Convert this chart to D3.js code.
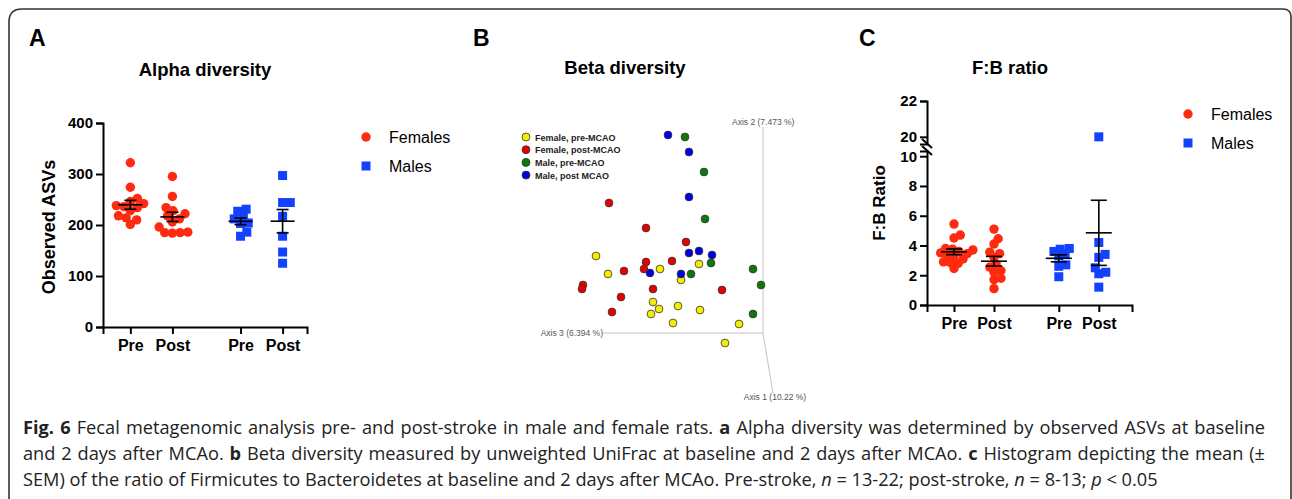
<!DOCTYPE html>
<html>
<head>
<meta charset="utf-8">
<script src="https://cdn.jsdelivr.net/npm/d3@7"></script>
<style>
  body { margin: 0; background: #fff; }
  .chart { font-family: "Liberation Sans", Arimo, Arial, Helvetica, sans-serif; }
  .letter { font-size: 23px; font-weight: bold; }
  .title { font-size: 18.5px; font-weight: bold; }
  .axis path, .axis line { stroke: #000; stroke-width: 2px; }
  .axis text { font-size: 15px; font-weight: bold; fill: #000; font-family: "Liberation Sans", Arial, sans-serif; }
  .xaxis text { font-size: 16px; }
  .ylabel { font-size: 18px; font-weight: bold; }
  .legend { font-size: 16px; }
  .caption { font-family: "Open Sans", sans-serif; font-size: 18.2px; fill: #222; }
</style>
</head>
<body>
<script>

// ---- data ----
var groupLabels = ["Pre", "Post", "Pre", "Post"];
var sexNames = ["Females", "Males"];

// A: observed ASVs
var alphaFemalePre  = [322, 274, 252, 246, 242, 238, 236, 234, 228, 218, 214, 210, 201];
var alphaFemalePost = [295, 256, 234, 228, 222, 218, 212, 206, 196, 186, 185, 185, 184];
var alphaMalePre    = [231, 227, 217, 212, 204, 203, 186, 178];
var alphaMalePost   = [297, 244, 244, 217, 178, 147, 125];
var alphaTicks = [0, 100, 200, 300, 400];

// C: F:B ratio
var ratioFemalePre  = [5.44, 4.7, 4.5, 3.8, 3.75, 3.7, 3.6, 3.5, 3.45, 3.35, 3.3, 3.1, 2.9, 2.85, 2.8, 2.45];
var ratioFemalePost = [5.1, 4.45, 4.1, 3.55, 3.45, 3.2, 2.75, 2.55, 2.3, 2.2, 1.8, 1.7, 1.1];
var ratioMalePre    = [3.8, 3.75, 3.6, 3.45, 3.3, 2.7, 2.6, 1.9];
var ratioMalePost   = [20, 4.2, 3.4, 3.2, 2.5, 2.2, 2.1, 1.2];
var ratioTicksLow = [0, 2, 4, 6, 8, 10];
var ratioTicksHigh = [20, 22];

// B: PCoA projection (axis 3 horizontal, axis 2 vertical)
var betaNames = ["Female, pre-MCAO", "Female, post-MCAO", "Male, pre-MCAO", "Male, post MCAO"];
var betaFemalePre = [[-0.167, 0.077], [-0.155, 0.059], [-0.103, 0.064], [-0.064, 0.069], [-0.082, 0.053],
                     [-0.110, 0.031], [-0.104, 0.024], [-0.112, 0.019], [-0.085, 0.027], [-0.063, 0.023],
                     [-0.090, 0.010], [-0.024, 0.009], [-0.038, -0.010]];
var betaFemalePost = [[-0.154, 0.130], [-0.117, 0.105], [-0.077, 0.091], [-0.117, 0.071], [-0.091, 0.072],
                      [-0.119, 0.064], [-0.139, 0.062], [-0.180, 0.048], [-0.181, 0.044], [-0.110, 0.044],
                      [-0.142, 0.036], [-0.151, 0.021], [-0.041, 0.043]];
var betaMalePre = [[-0.078, 0.196], [-0.059, 0.161], [-0.058, 0.114], [-0.052, 0.070], [-0.072, 0.059],
                   [-0.010, 0.064], [-0.002, 0.048], [-0.010, 0.019]];
var betaMalePost = [[-0.095, 0.198], [-0.074, 0.181], [-0.074, 0.136], [-0.074, 0.080], [-0.064, 0.082],
                    [-0.051, 0.078], [-0.113, 0.060], [-0.082, 0.059]];
var betaAxisNames = ["Axis 1 (10.22 %)", "Axis 2 (7.473 %)", "Axis 3 (6.394 %)"];

var red = "#ff2a0f", blue = "#1242ff";
var betaColors = ["#f4ef00", "#e60000", "#0b7a0b", "#0000e6"];

var svg = d3.select("body").append("svg")
    .attr("class", "chart")
    .attr("width", 1292)
    .attr("height", 499);

// frame
svg.append("path")
   .attr("d", "M9,499 V22 Q9,9 22,9 H1283 Q1291,9 1291,17 V499")
   .attr("fill", "none")
   .attr("stroke", "#333")
   .attr("stroke-width", 1.6);

// slot positions for the four groups
var slot = [0, 1, 2.62, 3.62];

function sem(v) { return d3.deviation(v) / Math.sqrt(v.length); }

// simple beeswarm: push points sideways until overlap is small enough
function swarm(vals, ypos, minDist) {
  var placed = [];
  vals.map(function(v){ return {v: v, y: ypos(v)}; })
      .sort(function(a, b){ return b.y - a.y; })
      .forEach(function(p){
        for (var k = 0; k < 300; k++) {
          var dx = (k % 2 ? 1 : -1) * Math.ceil(k / 2) * 0.7;
          var hit = placed.some(function(q){
            return (q.dx - dx) * (q.dx - dx) + (q.y - p.y) * (q.y - p.y) < minDist * minDist;
          });
          if (!hit) { p.dx = dx; placed.push(p); break; }
        }
      });
  return placed;
}

function drawGroup(g, vals, cx, ypos, shape, color, halfMean, halfCap, minDist) {
  var r = 4.7;
  swarm(vals, ypos, minDist).forEach(function(p){
    if (shape == "circle") {
      g.append("circle").attr("cx", cx + p.dx).attr("cy", p.y).attr("r", r).attr("fill", color);
    } else {
      g.append("rect").attr("x", cx + p.dx - 4.5).attr("y", p.y - 4.5)
       .attr("width", 9).attr("height", 9).attr("fill", color);
    }
  });
  var m = d3.mean(vals), s = sem(vals);
  var lines = [
    [cx, ypos(m - s), cx, ypos(m + s)],
    [cx - halfMean, ypos(m), cx + halfMean, ypos(m)],
    [cx - halfCap, ypos(m + s), cx + halfCap, ypos(m + s)],
    [cx - halfCap, ypos(m - s), cx + halfCap, ypos(m - s)]
  ];
  lines.forEach(function(l){
    g.append("line").attr("x1", l[0]).attr("y1", l[1]).attr("x2", l[2]).attr("y2", l[3])
     .attr("stroke", "#000").attr("stroke-width", 1.6);
  });
}

function legend(x, y) {
  svg.append("circle").attr("cx", x).attr("cy", y).attr("r", 4.7).attr("fill", red);
  svg.append("rect").attr("x", x - 4.5).attr("y", y + 29 - 4.5).attr("width", 9).attr("height", 9).attr("fill", blue);
  sexNames.forEach(function(n, i){
    svg.append("text").attr("class", "legend").attr("x", x + 23).attr("y", y + i * 29 + 6).text(n);
  });
}

// ================= A =================
svg.append("text").attr("class", "letter").attr("x", 29).attr("y", 46).text("A");
svg.append("text").attr("class", "title").attr("x", 205).attr("y", 76)
   .attr("text-anchor", "middle").text("Alpha diversity");

var xA = d3.scaleLinear().domain([-0.65, 4.2]).range([103, 307]);
var yA = d3.scaleLinear().domain([0, 400]).range([327, 123]);

svg.append("g").attr("class", "axis").attr("transform", "translate(103,0)")
   .call(d3.axisLeft(yA).tickValues(alphaTicks).tickSizeOuter(0).tickSize(7).tickPadding(3));
svg.append("g").attr("class", "axis xaxis").attr("transform", "translate(0,327)")
   .call(d3.axisBottom(xA).tickValues(slot).tickFormat(function(d, i){ return groupLabels[i]; })
         .tickSizeOuter(0).tickSize(7).tickPadding(6));

svg.append("text").attr("class", "ylabel")
   .attr("transform", "translate(55,227) rotate(-90)")
   .attr("text-anchor", "middle").text("Observed  ASVs");

var gA = svg.append("g");
[alphaFemalePre, alphaFemalePost, alphaMalePre, alphaMalePost].forEach(function(v, i){
  drawGroup(gA, v, xA(slot[i]), yA, i < 2 ? "circle" : "square", i < 2 ? red : blue, 12, 6, 7.5);
});
legend(366, 137);

// ================= B =================
svg.append("text").attr("class", "letter").attr("x", 473).attr("y", 46).text("B");
svg.append("text").attr("class", "title").attr("x", 625).attr("y", 74)
   .attr("text-anchor", "middle").text("Beta diversity");

var xB = d3.scaleLinear().domain([-0.18, 0]).range([583, 763]);
var yB = d3.scaleLinear().domain([0, 0.2]).range([333, 133]);

svg.append("polyline")
   .attr("points", [[xB(-0.16), yB(0)], [xB(0), yB(0)], [xB(0), yB(0.206)]].join(" "))
   .attr("fill", "none").attr("stroke", "#c4c4c4").attr("stroke-width", 1);
svg.append("line")
   .attr("x1", xB(0)).attr("y1", yB(0)).attr("x2", xB(0) + 10).attr("y2", yB(0) + 60)
   .attr("stroke", "#c4c4c4").attr("stroke-width", 1);

svg.append("text").attr("x", xB(0) + 12).attr("y", 400).attr("text-anchor", "middle")
   .style("font-size", "8.5px").style("fill", "#555").text(betaAxisNames[0]);
svg.append("text").attr("x", xB(0) - 31).attr("y", 125)
   .style("font-size", "8.5px").style("fill", "#555").text(betaAxisNames[1]);
svg.append("text").attr("x", xB(-0.16)).attr("y", 336).attr("text-anchor", "end")
   .style("font-size", "8.5px").style("fill", "#555").text(betaAxisNames[2]);

[betaFemalePre, betaFemalePost, betaMalePre, betaMalePost].forEach(function(pts, i){
  svg.append("g").selectAll("circle").data(pts).join("circle")
     .attr("cx", function(d){ return xB(d[0]); })
     .attr("cy", function(d){ return yB(d[1]); })
     .attr("r", 3.9)
     .attr("fill", betaColors[i])
     .attr("stroke", "#333").attr("stroke-width", 0.8);
});

betaNames.forEach(function(n, i){
  svg.append("circle").attr("cx", 526).attr("cy", 137 + i * 12.7).attr("r", 4)
     .attr("fill", betaColors[i]).attr("stroke", "#333").attr("stroke-width", 0.8);
  svg.append("text").attr("x", 535).attr("y", 140.5 + i * 12.7)
     .style("font-size", "9px").style("font-weight", "bold").style("fill", "#222").text(n);
});

// ================= C =================
svg.append("text").attr("class", "letter").attr("x", 859).attr("y", 46).text("C");
svg.append("text").attr("class", "title").attr("x", 1010).attr("y", 74)
   .attr("text-anchor", "middle").text("F:B ratio");

var xC = d3.scaleLinear().domain([-0.675, 4.45]).range([927, 1132]);
var yLow = d3.scaleLinear().domain([0, 10.35]).range([305, 151]);
var yHigh = d3.scaleLinear().domain([19.6, 22]).range([144, 101]);
function yC(v) { return v > 15 ? yHigh(v) : yLow(v); }

svg.append("g").attr("class", "axis").attr("transform", "translate(927,0)")
   .call(d3.axisLeft(yLow).tickValues(ratioTicksLow).tickFormat(d3.format("d"))
         .tickSizeOuter(0).tickSize(7).tickPadding(3));
svg.append("g").attr("class", "axis").attr("transform", "translate(927,0)")
   .call(d3.axisLeft(yHigh).tickValues(ratioTicksHigh).tickFormat(d3.format("d"))
         .tickSizeOuter(0).tickSize(7).tickPadding(3));
svg.append("g").attr("class", "axis xaxis").attr("transform", "translate(0,305)")
   .call(d3.axisBottom(xC).tickValues(slot).tickFormat(function(d, i){ return groupLabels[i]; })
         .tickSizeOuter(0).tickSize(7).tickPadding(6));

// break marks
[yHigh(19.6), yLow(10.35)].forEach(function(b){
  svg.append("line").attr("x1", 922).attr("y1", b - 5).attr("x2", 932).attr("y2", b + 4)
     .attr("stroke", "#000").attr("stroke-width", 2);
});

svg.append("text").attr("class", "ylabel")
   .style("font-size", "17px")
   .attr("transform", "translate(885,203) rotate(-90)")
   .attr("text-anchor", "middle").text("F:B Ratio");

var gC = svg.append("g");
[ratioFemalePre, ratioFemalePost, ratioMalePre, ratioMalePost].forEach(function(v, i){
  drawGroup(gC, v, xC(slot[i]), yC, i < 2 ? "circle" : "square", i < 2 ? red : blue, 13, 8, 6.6);
});
legend(1188, 114);

// ================= caption =================
var captionLines = [
  [["Fig. 6", "b"], [" Fecal metagenomic analysis pre- and post-stroke in male and female rats. ", ""], ["a", "b"],
   [" Alpha diversity was determined by observed ASVs at baseline", ""]],
  [["and 2 days after MCAo. ", ""], ["b", "b"], [" Beta diversity measured by unweighted UniFrac at baseline and 2 days after MCAo. ", ""],
   ["c", "b"], [" Histogram depicting the mean (\u00b1", ""]],
  [["SEM) of the ratio of Firmicutes to Bacteroidetes at baseline and 2 days after MCAo. Pre-stroke, ", ""], ["n", "i"],
   [" = 13-22; post-stroke, ", ""], ["n", "i"], [" = 8-13; ", ""], ["p", "i"], [" < 0.05", ""]]
];
captionLines.forEach(function(line, i){
  var t = svg.append("text").attr("class", "caption").attr("x", 23).attr("y", 434 + i * 26)
             .attr("xml:space", "preserve");
  line.forEach(function(s){
    t.append("tspan")
     .style("font-weight", s[1] == "b" ? "bold" : null)
     .style("font-style", s[1] == "i" ? "italic" : null)
     .text(s[0]);
  });
  // justified block: stretch the word gaps of all but the last line
  if (i < captionLines.length - 1) {
    var w = t.node().getComputedTextLength();
    var gaps = t.text().split(" ").length - 1;
    t.style("word-spacing", ((1265 - 23 - w) / gaps) + "px");
  }
});

</script>
</body>
</html>
